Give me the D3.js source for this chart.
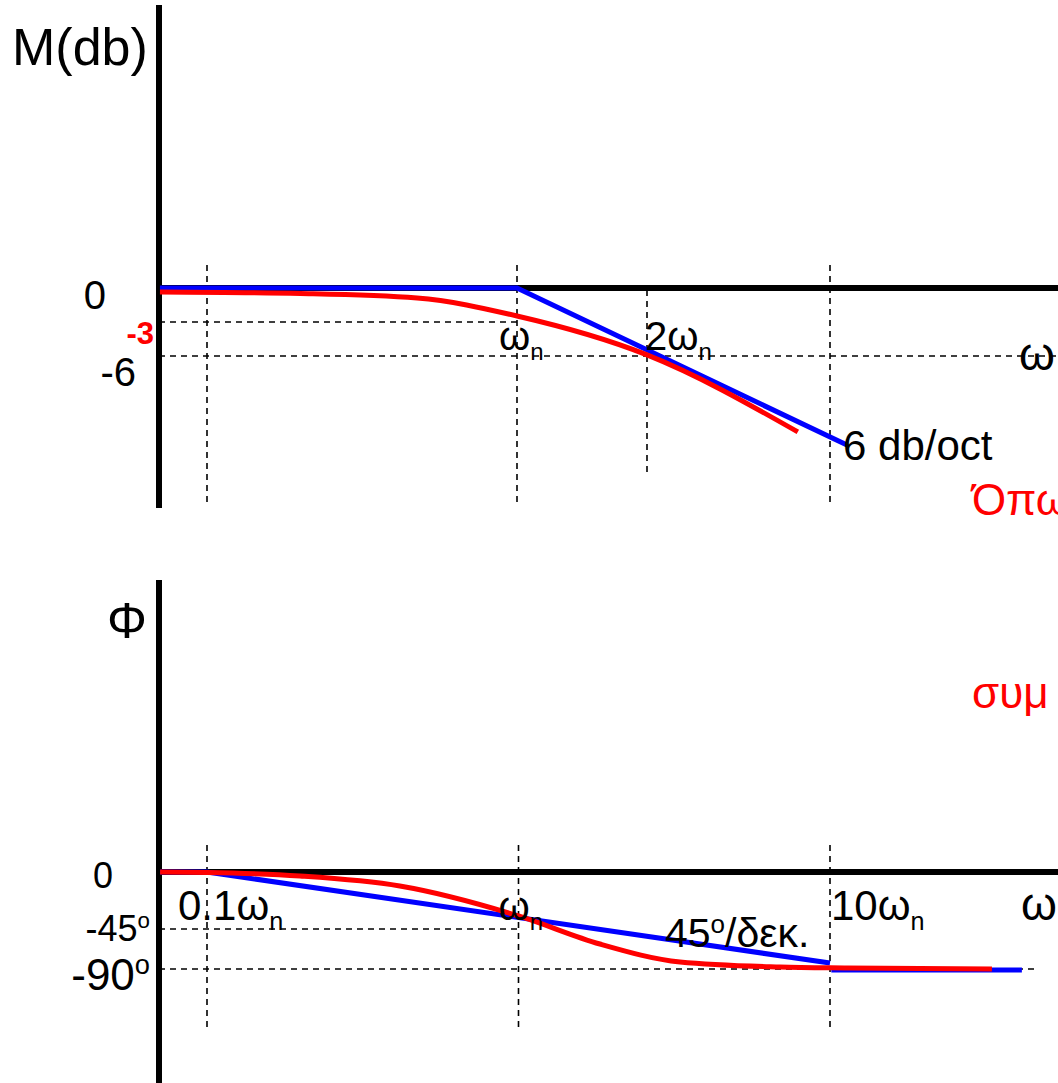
<!DOCTYPE html>
<html>
<head>
<meta charset="utf-8">
<script src="https://cdn.jsdelivr.net/npm/d3@7"></script>
<style>
  html, body { margin: 0; padding: 0; background: #fff; }
  svg { display: block; font-family: 'Liberation Sans', Arial, sans-serif; }
</style>
</head>
<body>
<div id="chart"></div>
<script>
// Bode sketch of a first order lag: magnitude (top) and phase (bottom)

// magnitude, exact curve (omega in multiples of wn, dB)
var magOmega = [0.149, 0.315, 0.587, 1, 2, 4.47]
var magExact = [-0.35, -0.49, -0.88, -2.47, -5.9, -12.7]
// magnitude, asymptotes
var magAsymOmega = [0.149, 1, 5.81]
var magAsym = [0, 0, -13.86]

// phase, exact curve (degrees)
var phaseOmega = [0.0707, 0.1, 0.199, 0.416, 1, 1.826, 3.30, 6.91, 11.4, 33.1]
var phaseExact = [0, -0.4, -3.2, -11.1, -34.7, -61.9, -82.1, -87.75, -88.9, -90]
// phase, asymptotes
var phaseAsymOmega = [0.0707, 0.1, 10]
var phaseAsym = [0, 0, -83.3]
var phaseTailOmega = [10.1, 41.3]
var phaseTail = [-91, -91]

// tick labels
var magTicks = [0, -6]
var phaseTicks = ['0', '-45', '-90']
var phaseTickValues = [0, -45, -90]

var width = 1058
var height = 1083
var blue = '#0000ff'
var red = '#ff0000'

var svg = d3.select('#chart').append('svg')
  .attr('width', width)
  .attr('height', height)

svg.append('rect').attr('width', width).attr('height', height).attr('fill', '#fff')

// scales: octave scale for the magnitude sketch, decade scale for phase
var xOct = d3.scaleLog().domain([1, 2]).range([517, 647])
var xDec = d3.scaleLog().domain([0.1, 10]).range([207, 830])
var yMag = d3.scaleLinear().domain([0, -6]).range([288, 356])
var yPh = d3.scaleLinear().domain([0, -45, -90]).range([872, 929, 969])

var axisX = 159

function dashed (g, x1, y1, x2, y2) {
  g.append('line')
    .attr('x1', x1).attr('y1', y1).attr('x2', x2).attr('y2', y2)
    .attr('stroke', '#000')
    .attr('stroke-width', 1.6)
    .attr('stroke-dasharray', '6,5')
}

function omegaN (g, x, y, size, prefix) {
  var t = g.append('text').attr('x', x).attr('y', y).attr('font-size', size)
  t.append('tspan').text((prefix || '') + 'ω')
  t.append('tspan').attr('font-size', size * 0.6).attr('dy', 10).text('n')
  return t
}

// ---------- magnitude panel ----------
var magG = svg.append('g')

dashed(magG, xDec(0.1), 265, xDec(0.1), 505)
dashed(magG, xOct(1), 265, xOct(1), 505)
dashed(magG, xOct(2), 290, xOct(2), 472)
dashed(magG, xDec(10), 265, xDec(10), 505)
dashed(magG, axisX, yMag(-3), xOct(1), yMag(-3))
dashed(magG, axisX, yMag(-6), width, yMag(-6))

magG.append('line')
  .attr('x1', axisX).attr('y1', 5).attr('x2', axisX).attr('y2', 508)
  .attr('stroke', '#000').attr('stroke-width', 6)
magG.append('line')
  .attr('x1', axisX).attr('y1', yMag(0)).attr('x2', width).attr('y2', yMag(0))
  .attr('stroke', '#000').attr('stroke-width', 6)

var magAsymLine = d3.line()
  .x(function (d) { return xOct(d[0]) })
  .y(function (d) { return yMag(d[1]) })
var magLine = d3.line()
  .x(function (d) { return xOct(d[0]) })
  .y(function (d) { return yMag(d[1]) })
  .curve(d3.curveMonotoneX)

magG.append('path')
  .datum(d3.zip(magAsymOmega, magAsym))
  .attr('d', magAsymLine)
  .attr('fill', 'none').attr('stroke', blue).attr('stroke-width', 5)

magG.append('path')
  .datum(d3.zip(magOmega, magExact))
  .attr('d', magLine)
  .attr('fill', 'none').attr('stroke', red).attr('stroke-width', 5)

magG.append('text').attr('x', 12).attr('y', 65).attr('font-size', 52).text('M(db)')

magTicks.forEach(function (v) {
  magG.append('text')
    .attr('x', v === 0 ? 106 : 136)
    .attr('y', yMag(v) + (v === 0 ? 21 : 30))
    .attr('text-anchor', 'end')
    .attr('font-size', 40)
    .text(v)
})
magG.append('text')
  .attr('x', 154).attr('y', yMag(-3) + 22)
  .attr('text-anchor', 'end')
  .attr('font-size', 31).attr('font-weight', 'bold').attr('fill', red)
  .text('-3')

omegaN(magG, xOct(1) - 18, 350, 40)
omegaN(magG, xOct(2) - 2, 350, 40, '2')
magG.append('text').attr('x', 1019).attr('y', 370).attr('font-size', 46).text('ω')
magG.append('text').attr('x', 843).attr('y', 460).attr('font-size', 42).text('6 db/oct')
magG.append('text').attr('x', 972).attr('y', 515).attr('font-size', 44).attr('fill', red).text('Όπω')

// ---------- phase panel ----------
var phG = svg.append('g')

;[0.1, 1, 10].forEach(function (w) {
  dashed(phG, xDec(w), 845, xDec(w), 1030)
})
dashed(phG, axisX, yPh(-45), xDec(1), yPh(-45))
dashed(phG, axisX, yPh(-90), 1035, yPh(-90))

phG.append('line')
  .attr('x1', axisX).attr('y1', 580).attr('x2', axisX).attr('y2', height)
  .attr('stroke', '#000').attr('stroke-width', 6)
phG.append('line')
  .attr('x1', axisX).attr('y1', yPh(0)).attr('x2', width).attr('y2', yPh(0))
  .attr('stroke', '#000').attr('stroke-width', 6)

var phLineStraight = d3.line()
  .x(function (d) { return xDec(d[0]) })
  .y(function (d) { return yPh(d[1]) })
var phLine = d3.line()
  .x(function (d) { return xDec(d[0]) })
  .y(function (d) { return yPh(d[1]) })
  .curve(d3.curveMonotoneX)

phG.append('path')
  .datum(d3.zip(phaseAsymOmega, phaseAsym))
  .attr('d', phLineStraight)
  .attr('fill', 'none').attr('stroke', blue).attr('stroke-width', 5)
phG.append('path')
  .datum(d3.zip(phaseTailOmega, phaseTail))
  .attr('d', phLineStraight)
  .attr('fill', 'none').attr('stroke', blue).attr('stroke-width', 5)

phG.append('path')
  .datum(d3.zip(phaseOmega, phaseExact))
  .attr('d', phLine)
  .attr('fill', 'none').attr('stroke', red).attr('stroke-width', 5)

phG.append('text').attr('x', 107).attr('y', 638).attr('font-size', 50).text('Φ')
phG.append('text').attr('x', 972).attr('y', 708).attr('font-size', 44).attr('fill', red).text('συμ')

// phase tick labels (the -90 label is drawn a little larger, as in the sketch)
var phaseTickSize = [36, 36, 44]
var phaseTickShift = [16, 12, 21]
phaseTicks.forEach(function (label, i) {
  var t = phG.append('text')
    .attr('x', i === 0 ? 113 : 150)
    .attr('y', yPh(phaseTickValues[i]) + phaseTickShift[i])
    .attr('text-anchor', 'end')
    .attr('font-size', phaseTickSize[i])
  t.append('tspan').text(label)
  if (i > 0) t.append('tspan').attr('font-size', phaseTickSize[i] * 0.62).attr('dy', -phaseTickSize[i] * 0.36).text('o')
})

omegaN(phG, 178, 920, 42, '0.1')
omegaN(phG, xDec(1) - 20, 920, 40)
omegaN(phG, xDec(10) + 1, 920, 42, '10')
phG.append('text').attr('x', 1021).attr('y', 920).attr('font-size', 46).text('ω')

var slope = phG.append('text').attr('x', 665).attr('y', 947).attr('font-size', 41)
slope.append('tspan').text('45')
slope.append('tspan').attr('font-size', 26).attr('dy', -14).text('o')
slope.append('tspan').attr('dy', 14).text('/δεκ.')
</script>
</body>
</html>
